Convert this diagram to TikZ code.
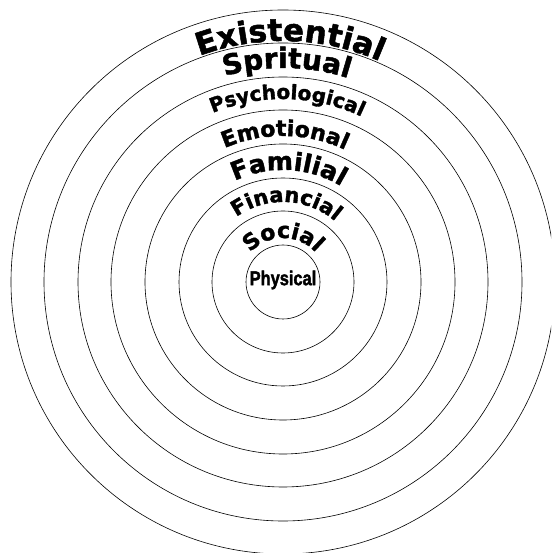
\documentclass[tikz,border=0pt]{standalone}
\usepackage{fontspec}
\usetikzlibrary{decorations.text}
\newfontfamily\archfont{DejaVu Sans Bold}[FakeBold=1.6]
\newfontfamily\centerfont{Liberation Sans Bold}[FakeBold=2]

% word bent along the top of a ring: radius, font size, shift angle, word
\newcommand{\ringlabel}[4]{%
  \path[decorate, decoration={text along path, text align=center,
      text={|\archfont\fontsize{#2}{#2}\selectfont|#4}}]
    (180-#3:#1) arc[start angle=180-#3, end angle=-#3, radius=#1];
}

\begin{document}
\begin{tikzpicture}[
    ring/.style={draw=black, line width=0.6pt}
  ]
  \useasboundingbox (-283pt,-271pt) rectangle (268pt,282pt);
  \clip (-283pt,-271pt) rectangle (268pt,282pt);
  \fill[white] (-283pt,-271pt) rectangle (268pt,282pt);

  % rings, innermost first
  \foreach \r in {37,71,104,138,172,205,239,272}
    \draw[ring] (0,0) circle[radius=\r pt];

  \node[font=\centerfont\fontsize{20}{20}\selectfont, inner sep=0pt] (physical) at (0,2pt)
    {\scalebox{0.82}[1]{Physical}};

  \ringlabel{44pt}{22}{0}{Social}
  \ringlabel{80pt}{21}{2.5}{Financial}
  \ringlabel{112pt}{25}{2.9}{Familial}
  \ringlabel{146pt}{22}{0.8}{Emotional}
  \ringlabel{183pt}{20}{1.4}{Psychological}
  \ringlabel{214pt}{28}{1}{Spritual}
  \ringlabel{241pt}{31}{1.7}{Existential}

\end{tikzpicture}
\end{document}
